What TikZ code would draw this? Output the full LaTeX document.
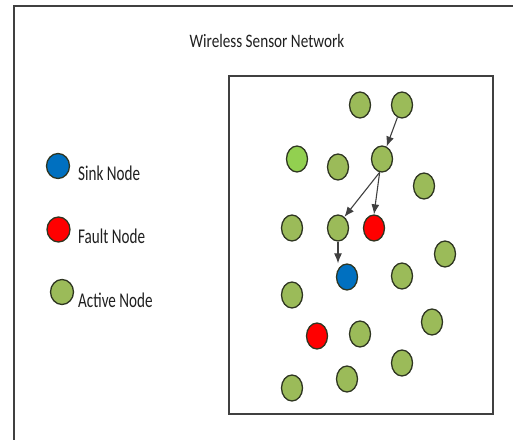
\documentclass[tikz,border=0pt]{standalone}
\usepackage{fontspec}
\setmainfont{Carlito}
\usetikzlibrary{shapes.geometric,arrows.meta}
\definecolor{actgreen}{HTML}{9BBB59}
\definecolor{litegreen}{HTML}{92D050}
\definecolor{sinkblue}{HTML}{0070C0}
\definecolor{faultred}{HTML}{FF0000}
\definecolor{rim}{HTML}{2E3521}
\definecolor{framegray}{HTML}{404040}
\tikzset{
  dot/.style={ellipse, draw=rim, line width=1.3bp, inner sep=0pt,
              minimum width=21bp, minimum height=26bp},
  act/.style={dot, fill=actgreen},
  liteact/.style={dot, fill=litegreen},
  sink/.style={dot, fill=sinkblue},
  fault/.style={dot, fill=faultred},
  legdot/.style={dot, minimum width=23bp, minimum height=25bp},
  legtext/.style={anchor=base west, inner sep=0pt, text=black!88,
                  font=\fontsize{21bp}{24bp}\selectfont},
  titletext/.style={anchor=base, inner sep=0pt, text=black!88,
                  font=\fontsize{19bp}{22bp}\selectfont},
  link/.style={draw=black!75, line width=1.1bp,
               -{Latex[length=10bp,width=8bp]}},
  frame/.style={draw=framegray, line width=1.8bp}
}
\begin{document}
\begin{tikzpicture}[x=1bp,y=-1bp]
\useasboundingbox (0,0) rectangle (513,440);
% outer frame (only left and top edges are visible)
\draw[frame] (14,440) -- (14,6) -- (513,6);
% title
\node[titletext] (title) at (267,48) {\scalebox{0.8}[1]{Wireless Sensor Network}};
% legend
\node[legdot, fill=sinkblue] (lsink) at (58,166) {};
\node[legdot, fill=faultred] (lfault) at (58.5,229.5) {};
\node[legdot, fill=actgreen] (lact) at (62,292) {};
\node[legtext] (tsink) at (78,181) {\scalebox{0.72}[1]{Sink Node}};
\node[legtext] (tfault) at (78,244) {\scalebox{0.72}[1]{Fault Node}};
\node[legtext] (tact) at (78,307) {\scalebox{0.72}[1]{Active Node}};
% network area
\draw[frame] (229,76) rectangle (493,414);
\node[act] (n1) at (360,105) {};
\node[act] (n2) at (402,105) {};
\node[liteact] (n3) at (297,159) {};
\node[act] (n4) at (338,167) {};
\node[act] (n5) at (382,159) {};
\node[act] (n6) at (424,186) {};
\node[act] (n7) at (292,228) {};
\node[act] (n8) at (338,228) {};
\node[fault] (n9) at (374,228) {};
\node[act] (n10) at (445,254) {};
\node[sink] (n11) at (347,277) {};
\node[act] (n12) at (402,276) {};
\node[act] (n13) at (292,295) {};
\node[fault] (n14) at (317,336) {};
\node[act] (n15) at (360,334) {};
\node[act] (n16) at (432,322) {};
\node[act] (n17) at (402,363) {};
\node[act] (n18) at (347,379) {};
\node[act] (n19) at (292,388) {};
% connectors
\draw[link] (n2) -- (n5);
\draw[link] (n5.-100) -- (n8.60);
\draw[link] (n5.-100) -- (n9.north);
\draw[link] (n8.south) -- (n8.south |- n11.north);
\end{tikzpicture}
\end{document}
